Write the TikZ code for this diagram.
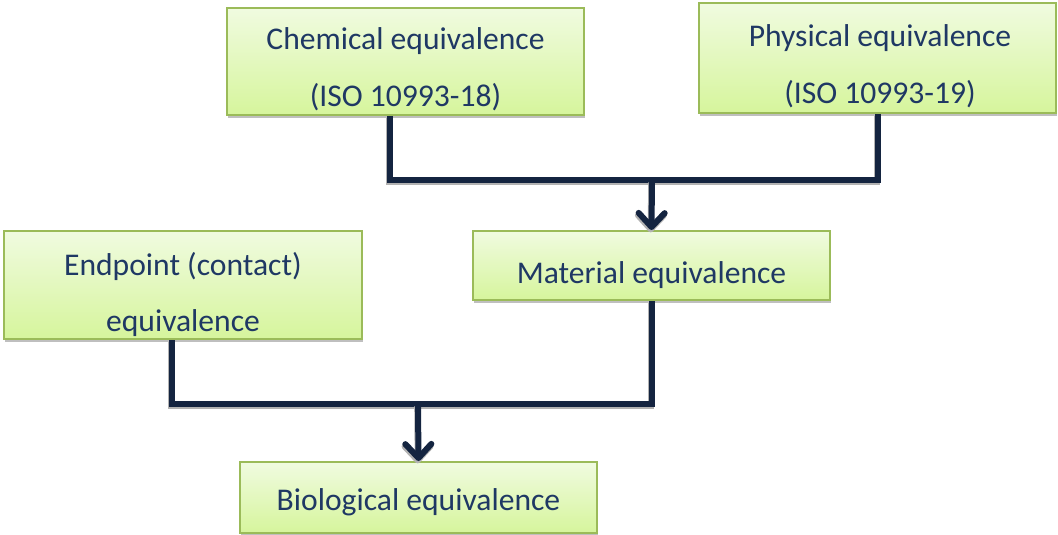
\documentclass[tikz,border=0pt]{standalone}
\usepackage{fontspec}
\setmainfont{Carlito}
\usetikzlibrary{arrows.meta,shadows}
\definecolor{inktext}{RGB}{31,56,100}
\definecolor{inkline}{RGB}{20,36,64}
\definecolor{boxtop}{RGB}{240,251,224}
\definecolor{boxbottom}{RGB}{214,245,156}
\definecolor{boxedge}{RGB}{155,187,89}
\tikzset{
  stepbox/.style={rectangle, draw=boxedge, line width=1.5pt, inner sep=0pt,
    top color=boxtop, bottom color=boxbottom, minimum width=267.75pt,
    drop shadow={shadow xshift=0.8pt, shadow yshift=-2pt, opacity=0.25, fill=black}},
  label text/.style={text=inktext, inner sep=0pt, anchor=base,
    font=\fontsize{23.7}{28.4}\selectfont},
  conn/.style={draw=inkline, line width=4.5pt, line join=miter,
    preaction={draw=black!30, line width=4.5pt, transform canvas={yshift=-1.8pt, xshift=-0.6pt}}},
  arrowed/.style={conn, -{Straight Barb[length=10.5pt,width=19.5pt,line cap=round,line join=round]}}
}
\newcommand{\twolines}[2]{\begin{tabular}[t]{@{}c@{}}#1\\[14.3pt]#2\end{tabular}}
\begin{document}
\begin{tikzpicture}[x=0.75pt,y=-0.75pt]
\useasboundingbox (0,0) rectangle (1058,535);

% boxes
\node[stepbox, minimum height=80.25pt] (chem) at (405.5,61.5) {};
\node[stepbox, minimum height=82.5pt]  (phys) at (877.5,58) {};
\node[stepbox, minimum width=268.5pt, minimum height=81pt] (endp) at (183,285) {};
\node[stepbox, minimum height=51.75pt] (mat)  at (651.5,265.5) {};
\node[stepbox, minimum height=53.25pt] (bio)  at (418.5,497.5) {};

% texts
\node[label text] (chemtext) at (405.5,50) {\twolines{Chemical equivalence}{(ISO 10993-18)}};
\node[label text] (phystext) at (880,47) {\twolines{Physical equivalence}{(ISO 10993-19)}};
\node[label text] (endptext) at (183,275) {\twolines{Endpoint (contact)}{equivalence}};
\node[label text] (mattext)  at (651.5,283) {Material equivalence};
\node[label text] (biotext)  at (418.5,510) {Biological equivalence};

% connectors
\coordinate (topjoin) at (652,180);
\coordinate (botjoin) at (418,404);
\draw[conn] ([xshift=-11.6pt]chem.south) |- (phys.south |- topjoin) -- (phys.south);
\draw[arrowed] (topjoin) -- (mat.north);
\draw[conn] ([xshift=-8.25pt]endp.south) |- (mat.south |- botjoin) -- (mat.south);
\draw[arrowed] (botjoin) -- (bio.north);
\end{tikzpicture}
\end{document}
